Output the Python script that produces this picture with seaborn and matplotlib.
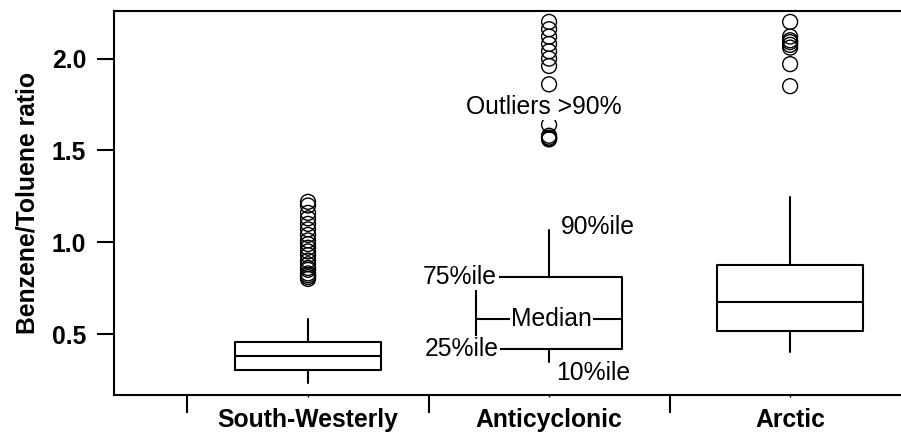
import matplotlib
matplotlib.use("Agg")
import matplotlib.pyplot as plt
import seaborn as sns
import pandas as pd

# -------------------------
# Configuration
# -------------------------
sns.set_style("ticks")
plt.rcParams["font.family"] = ["Liberation Sans", "DejaVu Sans"]
plt.rcParams["text.color"] = "black"
plt.rcParams["axes.labelcolor"] = "black"
plt.rcParams["xtick.color"] = "black"
plt.rcParams["ytick.color"] = "black"

# -------------------------
# Data
# -------------------------
categories = ["South-Westerly", "Anticyclonic", "Arctic"]
p10 = [0.231, 0.347, 0.404]
q1 = [0.304, 0.418, 0.518]
median = [0.382, 0.580, 0.673]
q3 = [0.458, 0.812, 0.876]
p90 = [0.582, 1.067, 1.248]

sw_outliers = [1.22, 1.20, 1.16, 1.13, 1.10, 1.07, 1.04, 1.01, 0.99, 0.97,
               0.95, 0.93, 0.90, 0.88, 0.86, 0.85, 0.83, 0.82, 0.81, 0.80]
anti_outliers = [2.20, 2.16, 2.12, 2.08, 2.04, 2.00, 1.96, 1.86,
                 1.64, 1.58, 1.57, 1.565, 1.56]
arctic_outliers = [2.20, 2.12, 2.10, 2.09, 2.075, 2.06, 1.97, 1.85]

outliers = pd.DataFrame({
    "regime": (["South-Westerly"] * len(sw_outliers)
               + ["Anticyclonic"] * len(anti_outliers)
               + ["Arctic"] * len(arctic_outliers)),
    "ratio": sw_outliers + anti_outliers + arctic_outliers,
})
outliers["pos"] = outliers["regime"].map({c: i for i, c in enumerate(categories)})

stats = [
    dict(label=c, whislo=p10[i], q1=q1[i], med=median[i], q3=q3[i],
         whishi=p90[i], fliers=[])
    for i, c in enumerate(categories)
]

# -------------------------
# Plot
# -------------------------
fig = plt.figure(figsize=(9.01, 4.37), dpi=100)
ax = fig.add_axes([0.1265, 0.0961, 0.8735, 0.879])

line = dict(color="black", linewidth=1.5)
ax.bxp(stats, positions=range(len(categories)), widths=0.606,
       showcaps=False, showfliers=False,
       boxprops=line, whiskerprops=line, medianprops=line)

sns.scatterplot(data=outliers, x="pos", y="ratio", ax=ax, marker="o", s=115,
                color="black", facecolor="none", edgecolor="black",
                linewidth=1.0, zorder=3)

# annotations on the Anticyclonic box
fs = 17.8
txt = dict(fontsize=fs, zorder=6,
           bbox=dict(facecolor="white", edgecolor="none", pad=1.0))
ax.text(0.98, 1.737, "Outliers >90%", ha="center", va="center", **txt)
ax.text(1.05, 1.085, "90%ile", ha="left", va="center", **txt)
ax.text(0.785, q3[1], "75%ile", ha="right", va="center", **txt)
ax.text(0.79, q1[1], "25%ile", ha="right", va="center", **txt)
ax.text(1.01, median[1], "Median", ha="center", va="center", **txt)
ax.text(1.03, 0.287, "10%ile", ha="left", va="center", **txt)

# axes styling
ax.set_xlim(-0.805, 2.46)
ax.set_ylim(0.168, 2.26)
ax.set_xlabel("")
ax.set_ylabel("Benzene/Toluene ratio", fontsize=fs, fontweight="bold", labelpad=9)

ax.set_xticks(range(len(categories)))
ax.set_xticklabels(categories, fontsize=fs, fontweight="bold")
ax.set_xticks([-0.5, 0.5, 1.5], minor=True)
ax.tick_params(axis="x", which="major", length=1.5, width=1.0, pad=8)
ax.tick_params(axis="x", which="minor", length=13, width=1.5, direction="out")

ax.set_yticks([0.5, 1.0, 1.5, 2.0])
ax.set_yticklabels(["0.5", "1.0", "1.5", "2.0"], fontsize=fs, fontweight="bold")
ax.tick_params(axis="y", length=12, width=1.5, pad=8, direction="out")

for side in ["left", "top", "bottom"]:
    ax.spines[side].set_linewidth(1.5)
    ax.spines[side].set_color("black")
ax.spines["right"].set_visible(False)

fig.savefig("out.png", dpi=100)
plt.close(fig)
